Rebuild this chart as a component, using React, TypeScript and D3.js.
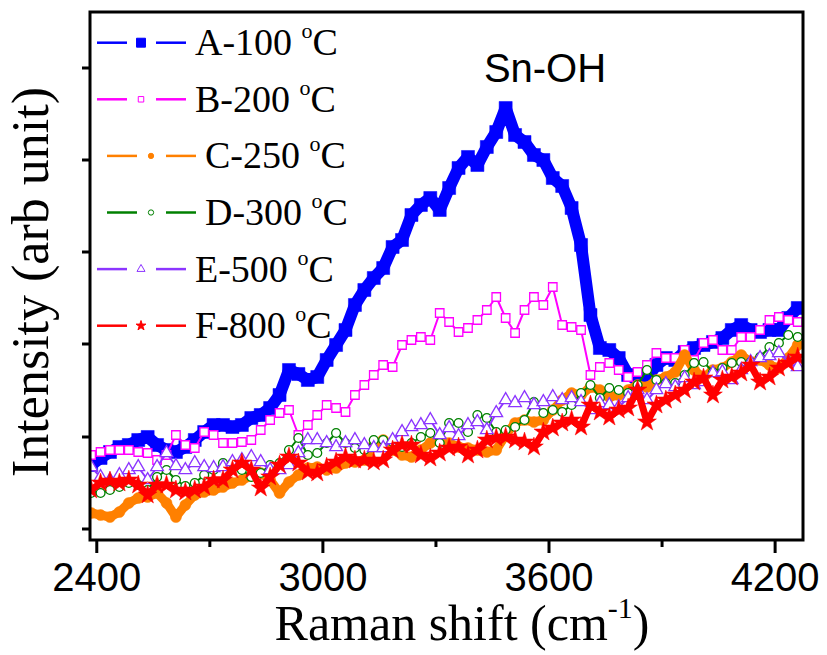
import React from 'react';
import * as d3 from 'd3';

// Raman shift grid (cm-1)
const shifts = [
  2385, 2410, 2435, 2460, 2485, 2510, 2535, 2560, 2585, 2610,
  2635, 2660, 2685, 2710, 2735, 2760, 2785, 2810, 2835, 2860,
  2885, 2910, 2935, 2960, 2985, 3010, 3035, 3060, 3085, 3110,
  3135, 3160, 3185, 3210, 3235, 3260, 3285, 3310, 3335, 3360,
  3385, 3410, 3435, 3460, 3485, 3510, 3535, 3560, 3585, 3610,
  3635, 3660, 3685, 3710, 3735, 3760, 3785, 3810, 3835, 3860,
  3885, 3910, 3935, 3960, 3985, 4010, 4035, 4060, 4085, 4110,
  4135, 4160, 4185, 4210, 4235, 4260,
];

// intensities (arb unit)
const a100 = [
  64, 71, 77, 82, 84, 89, 92, 84, 79, 77,
  82, 89, 97, 104, 104, 102, 104, 111, 114, 121,
  134, 159, 155, 149, 152, 169, 184, 199, 224, 239,
  251, 261, 282, 289, 314, 324, 331, 319, 341, 361,
  372, 364, 382, 397, 421, 394, 387, 374, 369, 351,
  343, 321, 284, 214, 181, 179, 171, 154, 149, 151,
  164, 171, 169, 177, 181, 184, 187, 191, 199, 204,
  199, 197, 199, 199, 211, 221,
];
const b200 = [
  74, 77, 79, 79, 79, 77, 76, 69, 74, 94,
  84, 81, 97, 94, 86, 86, 87, 89, 99, 109,
  116, 119, 94, 104, 114, 124, 121, 117, 134, 144,
  154, 164, 162, 184, 189, 192, 189, 216, 207, 197,
  201, 209, 219, 232, 211, 196, 219, 232, 224, 242,
  204, 202, 199, 154, 162, 166, 159, 152, 157, 164,
  176, 171, 171, 179, 169, 186, 189, 179, 179, 192,
  192, 199, 209, 212, 209, 207,
];
const c250 = [
  16, 14, 12, 17, 26, 31, 32, 36, 26, 12,
  24, 34, 37, 39, 42, 46, 49, 53, 56, 49,
  36, 47, 54, 61, 62, 59, 61, 66, 67, 69,
  84, 89, 79, 74, 72, 79, 86, 89, 86, 82,
  81, 79, 77, 79, 94, 106, 109, 107, 109, 119,
  129, 136, 134, 142, 139, 132, 134, 139, 144, 142,
  149, 152, 157, 174, 159, 151, 159, 161, 167, 174,
  167, 169, 164, 161, 171, 184,
];
const d300 = [
  36, 36, 39, 42, 46, 44, 39, 52, 59, 49,
  43, 46, 54, 59, 66, 66, 59, 52, 56, 64,
  66, 79, 91, 74, 76, 86, 96, 86, 81, 79,
  89, 89, 87, 82, 86, 92, 96, 86, 106, 106,
  97, 114, 111, 97, 99, 102, 109, 127, 116, 119,
  117, 124, 136, 144, 131, 141, 139, 136, 144, 159,
  149, 146, 146, 154, 166, 167, 157, 161, 166, 167,
  167, 172, 182, 186, 194, 192,
];
const e500 = [
  62, 52, 49, 54, 59, 62, 49, 62, 76, 63,
  59, 66, 62, 61, 62, 67, 69, 72, 67, 59,
  59, 64, 76, 89, 89, 86, 82, 86, 89, 84,
  81, 81, 89, 97, 102, 104, 109, 94, 101, 93,
  104, 107, 99, 116, 129, 126, 131, 124, 127, 132,
  129, 131, 127, 119, 126, 124, 122, 131, 139, 129,
  139, 145, 142, 151, 144, 147, 156, 157, 149, 159,
  167, 171, 173, 176, 167, 162,
];
const f800 = [
  39, 46, 48, 46, 49, 44, 34, 44, 44, 39,
  37, 39, 42, 49, 49, 59, 66, 59, 41, 52,
  64, 72, 66, 57, 56, 62, 67, 72, 69, 69,
  67, 69, 79, 84, 84, 74, 71, 76, 81, 82,
  74, 79, 89, 91, 92, 89, 87, 82, 97, 101,
  106, 109, 102, 124, 117, 112, 119, 121, 139, 107,
  124, 129, 134, 139, 147, 151, 134, 149, 152, 156,
  164, 147, 152, 161, 166, 172,
];

const labels = ['A-100 ', 'B-200 ', 'C-250 ', 'D-300 ', 'E-500 ', 'F-800 '];
const xTicks = [2400, 3000, 3600, 4200];
const xMinorTicks = [2700, 3300, 3900];
const yTicks = [0, 92, 185, 277, 369, 461];

const series = [
  { name: labels[0], values: a100, color: '#0000ff', symbol: d3.symbolSquare, size: 170, lw: 12, hollow: false, legendSize: 80, shift: 0 },
  { name: labels[1], values: b200, color: '#ff00ff', symbol: d3.symbolSquare, size: 72, lw: 2, hollow: true, legendSize: 30, shift: 0 },
  { name: labels[2], values: c250, color: '#ff8000', symbol: d3.symbolCircle, size: 95, lw: 9, hollow: false, legendSize: 22, shift: 10 },
  { name: labels[3], values: d300, color: '#008000', symbol: d3.symbolCircle, size: 62, lw: 2, hollow: true, legendSize: 22, shift: 10 },
  { name: labels[4], values: e500, color: '#8c35ff', symbol: d3.symbolTriangle, size: 70, lw: 2, hollow: true, legendSize: 28, shift: 0 },
  { name: labels[5], values: f800, color: '#ff0000', symbol: d3.symbolStar, size: 110, lw: 7, hollow: false, legendSize: 30, shift: 0 },
];

const W = 827;
const H = 655;
const left = 90, right = 803, top = 12, bottom = 540;

const x = d3.scaleLinear().domain([2382, 4274]).range([left, right]);
const y = d3.scaleLinear().domain([-11, 517]).range([bottom, top]);

const serif = '"Liberation Serif", "Times New Roman", serif';
const sans = '"Liberation Sans", Arial, sans-serif';

const App = () => {
  const line = d3.line<number>()
    .x((_, i) => x(shifts[i]))
    .y(d => y(d));

  return (
    <svg width={W} height={H} style={{ position: 'absolute', left: 0, top: 0, background: '#fff' }}>
      <defs>
        <clipPath id="plot-clip">
          <rect x={left} y={top} width={right - left} height={bottom - top} />
        </clipPath>
      </defs>

      {/* series */}
      <g clipPath="url(#plot-clip)">
        {series.map((s, si) => {
          const sym = d3.symbol().type(s.symbol).size(s.size)();
          return (
            <g key={si}>
              <path d={line(s.values) || ''} fill="none" stroke={s.color} strokeWidth={s.lw} strokeLinejoin="round" />
              {s.values.map((v, i) => (
                <path
                  key={i}
                  d={sym || ''}
                  transform={`translate(${x(shifts[i])},${y(v)})`}
                  fill={s.hollow ? '#fff' : s.color}
                  stroke={s.color}
                  strokeWidth={s.hollow ? 1.3 : 0.5}
                />
              ))}
            </g>
          );
        })}
      </g>

      {/* frame */}
      <rect x={left} y={top} width={right - left} height={bottom - top} fill="none" stroke="#000" strokeWidth={3} />

      {/* y ticks (no labels) */}
      {yTicks.map((t, i) => (
        <line key={i} x1={left - 8} x2={left} y1={y(t)} y2={y(t)} stroke="#000" strokeWidth={3} />
      ))}

      {/* x ticks */}
      {xTicks.map((t, i) => (
        <g key={i} transform={`translate(${x(t)},${bottom})`}>
          <line y1={0} y2={13} stroke="#000" strokeWidth={3} />
          <text y={51} textAnchor="middle" fontFamily={sans} fontSize={40} fill="#000">{t}</text>
        </g>
      ))}
      {xMinorTicks.map((t, i) => (
        <line key={i} x1={x(t)} x2={x(t)} y1={bottom} y2={bottom + 7} stroke="#000" strokeWidth={3} />
      ))}

      {/* axis titles */}
      <text x={462} y={640} textAnchor="middle" fontFamily={serif} fontSize={50} fill="#000">
        Raman shift (cm<tspan fontSize={30} dy={-22}>-1</tspan><tspan dy={22}>)</tspan>
      </text>
      <text
        transform={`translate(48,${(top + bottom) / 2 + 6}) rotate(-90)`}
        textAnchor="middle"
        fontFamily={serif}
        fontSize={52}
        fill="#000"
      >
        Intensity (arb unit)
      </text>

      {/* peak label */}
      <text x={545} y={82} textAnchor="middle" fontFamily={sans} fontSize={40} fill="#000">Sn-OH</text>

      {/* legend */}
      {series.map((s, i) => {
        const ly = 42.7 + i * 56.6;
        const x0 = 97 + s.shift;
        const sym = d3.symbol().type(s.symbol).size(s.legendSize)();
        return (
          <g key={i}>
            <line x1={x0} x2={x0 + 30} y1={ly} y2={ly} stroke={s.color} strokeWidth={2.5} />
            <line x1={x0 + 59} x2={x0 + 89} y1={ly} y2={ly} stroke={s.color} strokeWidth={2.5} />
            <path
              d={sym || ''}
              transform={`translate(${x0 + 44},${ly})`}
              fill={s.hollow ? '#fff' : s.color}
              stroke={s.color}
              strokeWidth={1}
            />
            <text x={x0 + 98} y={ly + 12.5} fontFamily={serif} fontSize={38} fill="#000">
              {s.name}<tspan fontSize={22} dy={-17}>o</tspan><tspan dy={17}>C</tspan>
            </text>
          </g>
        );
      })}
    </svg>
  );
};

export default App;
